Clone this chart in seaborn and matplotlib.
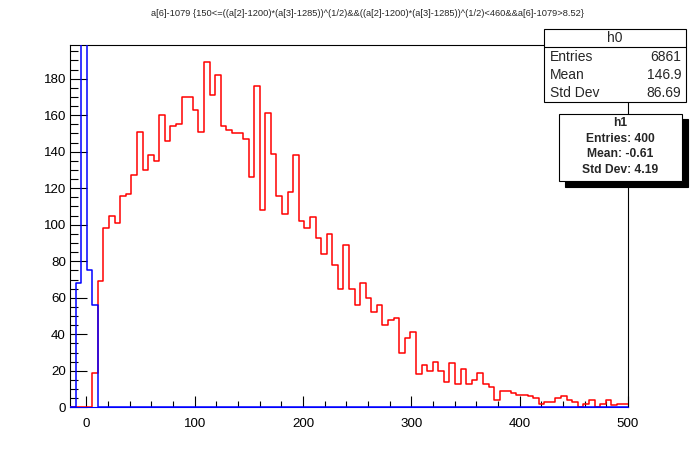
import numpy as np
import pandas as pd
import matplotlib
matplotlib.use("Agg")
import matplotlib.pyplot as plt
import seaborn as sns
from matplotlib.patches import Rectangle
from matplotlib.lines import Line2D
from matplotlib.ticker import MultipleLocator

# ---------------- data ----------------
title = ("a[6]-1079 {150<=((a[2]-1200)*(a[3]-1285))^(1/2)&&((a[2]-1200)*"
         "(a[3]-1285))^(1/2)<460&&a[6]-1079>8.52}")

x_low, x_high, n_bins = -15, 500, 100

h0_counts = [0, 0, 0, 0, 19, 69, 98, 105, 101, 116,
             117, 127, 151, 130, 138, 135, 160, 146, 154, 155,
             170, 170, 163, 151, 189, 171, 182, 154, 152, 150,
             150, 147, 126, 176, 108, 161, 139, 116, 106, 118,
             138, 102, 98, 104, 93, 84, 95, 78, 65, 89,
             65, 56, 68, 60, 52, 56, 45, 48, 49, 30,
             38, 41, 18, 23, 20, 25, 20, 14, 24, 13,
             21, 13, 15, 19, 13, 11, 4, 9, 9, 8,
             7, 7, 6, 5, 2, 3, 3, 5, 6, 4,
             3, 0, 2, 4, 0, 2, 4, 1, 2, 2]

h1_counts = [0, 68, 201, 75, 56] + [0] * 95

h0_name = "h0"
h0_labels = ["Entries", "Mean", "Std Dev"]
h0_values = ["6861", "146.9", "86.69"]

h1_name = "h1"
h1_lines = ["Entries: 400", "Mean: -0.61", "Std Dev: 4.19"]

# ---------------- style ----------------
sns.set_style("white")
plt.rcParams["font.family"] = ["Liberation Sans", "DejaVu Sans"]

W, H = 698, 453
fig = plt.figure(figsize=(W / 100, H / 100), dpi=100)
ax = fig.add_axes([70 / W, 1 - 407.3 / H, (628 - 70) / W, (407.3 - 45) / H])

edges = np.linspace(x_low, x_high, n_bins + 1)
centers = (edges[:-1] + edges[1:]) / 2
df0 = pd.DataFrame({"x": centers, "w": np.asarray(h0_counts, dtype=float)})
df1 = pd.DataFrame({"x": centers, "w": np.asarray(h1_counts, dtype=float)})

sns.histplot(data=df0, x="x", weights="w", bins=n_bins, binrange=(x_low, x_high),
             element="step", fill=False, color="#ff0000", linewidth=1.1, ax=ax)
sns.histplot(data=df1, x="x", weights="w", bins=n_bins, binrange=(x_low, x_high),
             element="step", fill=False, color="#0000ff", linewidth=1.1, ax=ax)
for ln in ax.lines:
    ln.set_zorder(3)

ax.set_xlim(x_low, x_high)
ax.set_ylim(0, 1.05 * max(h0_counts))
ax.set_xlabel("")
ax.set_ylabel("")

ax.xaxis.set_major_locator(MultipleLocator(100))
ax.xaxis.set_minor_locator(MultipleLocator(20))
ax.yaxis.set_major_locator(MultipleLocator(20))
ax.yaxis.set_minor_locator(MultipleLocator(5))

ax.tick_params(axis="both", which="both", direction="in", top=False,
               right=False, bottom=True, left=True, colors="black",
               width=0.8, labelsize=9.6)
ax.tick_params(axis="y", which="major", length=12.2, pad=3)
ax.tick_params(axis="y", which="minor", length=6.1)
ax.tick_params(axis="x", which="major", length=7.9, pad=8)
ax.tick_params(axis="x", which="minor", length=4.0)

for s in ax.spines.values():
    s.set_color("black")
    s.set_linewidth(0.8)
ax.spines["bottom"].set_color("#0000ff")

# ---------------- title ----------------
def fx(px):
    return px / W

def fy(py):
    return 1 - py / H

fig.text(fx(367), fy(13), title, ha="center", va="center", fontsize=6.64)

# ---------------- stats box h0 ----------------
fig.patches.append(Rectangle((fx(544), fy(102)), fx(686) - fx(544), fy(29) - fy(102),
                             transform=fig.transFigure, facecolor="white",
                             edgecolor="black", linewidth=0.8, zorder=5))
fig.lines.append(Line2D([fx(544), fx(686)], [fy(47), fy(47)],
                        transform=fig.transFigure, color="black", linewidth=0.8, zorder=6))
fig.text(fx(615), fy(38), h0_name, ha="center", va="center", fontsize=10, zorder=7)
for i, (lab, val) in enumerate(zip(h0_labels, h0_values)):
    yy = 57 + 18 * i
    fig.text(fx(550), fy(yy), lab, ha="left", va="center", fontsize=10, zorder=7)
    fig.text(fx(681), fy(yy), val, ha="right", va="center", fontsize=10, zorder=7)

# ---------------- stats box h1 (with shadow) ----------------
fig.patches.append(Rectangle((fx(565), fy(187)), fx(688) - fx(565), fy(119) - fy(187),
                             transform=fig.transFigure, facecolor="black",
                             edgecolor="black", linewidth=0.8, zorder=5))
fig.patches.append(Rectangle((fx(559), fy(181)), fx(682) - fx(559), fy(114) - fy(181),
                             transform=fig.transFigure, facecolor="white",
                             edgecolor="black", linewidth=0.8, zorder=6))
fig.text(fx(620.5), fy(122.5), h1_name, ha="center", va="center", fontsize=8.7,
         fontweight="bold", zorder=7)
for i, line in enumerate(h1_lines):
    fig.text(fx(620.5), fy(138.5 + 15.7 * i), line, ha="center", va="center",
             fontsize=8.7, fontweight="bold", zorder=7)

fig.savefig("out.png", dpi=100)
